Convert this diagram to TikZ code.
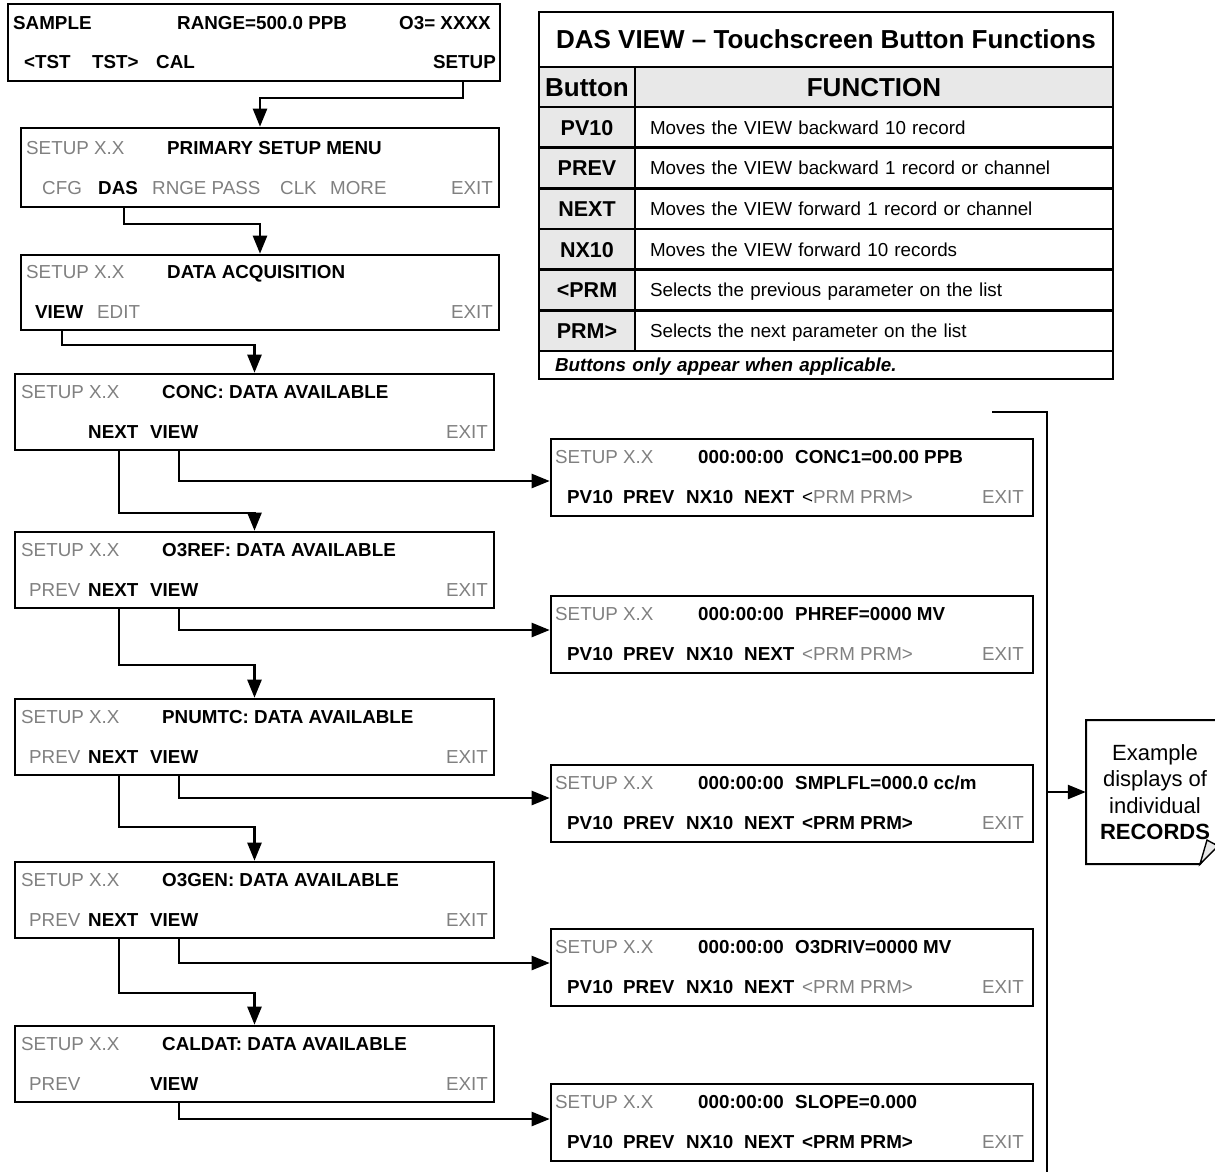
\documentclass[tikz,border=0pt]{standalone}
\usepackage{fontspec}
\setmainfont{Liberation Sans}
\usetikzlibrary{arrows.meta,calc}
\definecolor{dim}{RGB}{128,128,128}
\definecolor{cellgrey}{RGB}{232,232,232}
\newcommand\fsmain{\fontsize{18.8}{22}\selectfont}
\newcommand\fsbig{\fontsize{26}{30}\selectfont}
\newcommand\fsbtn{\fontsize{21.5}{25}\selectfont}
\newcommand\fsnote{\fontsize{22}{26.5}\selectfont}
\begin{document}
\begin{tikzpicture}[x=1pt,y=-1pt,
  screen/.style={draw, line width=2.6pt, inner sep=0pt},
  lscreen/.style={screen, minimum width=479pt, minimum height=76pt},
  rscreen/.style={screen, minimum width=482pt, minimum height=77pt},
  conn/.style={line width=2.4pt, -{Triangle[length=18pt,width=14pt]}},
  plain/.style={line width=2.4pt},
  txr/.style={anchor=base west, inner sep=0pt, font=\fsmain},
  txb/.style={txr, font=\fsmain\bfseries},
  txg/.style={txr, text=dim},
  txge/.style={txg, anchor=base east},
  txbe/.style={txb, anchor=base east},
  tcell/.style={draw, line width=2.4pt, inner sep=0pt},
  bcell/.style={tcell, fill=cellgrey, minimum width=96pt, minimum height=40.67pt, font=\fsbtn\bfseries, text height=15.4pt, text depth=0pt},
  dcell/.style={tcell, minimum width=478pt, minimum height=40.67pt, text width=448pt, inner xsep=15pt, align=left, font=\fsmain, text height=13.5pt, text depth=0pt},
]
\useasboundingbox (0,0) rectangle (1215,1171);

% ---------- left column screens ----------
\node[screen, minimum width=492pt, minimum height=77pt] (scrA) at (254,42.5) {};
\node[txb] (aSample) at (13,29.7) {SAMPLE};
\node[txb] (aRange) at (177,29.7) {RANGE=500.0 PPB};
\node[txb] (aO3) at (399,29.7) {O3= XXXX};
\node[txb] (aTstL) at (24,68.7) {<TST};
\node[txb] (aTstR) at (92,68.7) {TST>};
\node[txb] (aCal) at (156,68.7) {CAL};
\node[txbe] (aSetup) at (496,68.7) {SETUP};

\node[screen, minimum width=478pt, minimum height=79pt] (scrB) at (260,167.5) {};
\node[txg] (bSet) at (26,154.7) {SETUP X.X};
\node[txb] (bTitle) at (167,154.7) {PRIMARY SETUP MENU};
\node[txg] (bCfg) at (42,194.7) {CFG};
\node[txb] (bDas) at (98,194.7) {DAS};
\node[txg] (bRnge) at (152,194.7) {RNGE PASS};
\node[txg] (bClk) at (280,194.7) {CLK};
\node[txg] (bMore) at (330,194.7) {MORE};
\node[txge] (bExit) at (493,194.7) {EXIT};

\node[screen, minimum width=478pt, minimum height=75pt] (scrC) at (260,292.5) {};
\node[txg] (cSet) at (26,278.7) {SETUP X.X};
\node[txb] (cTitle) at (167,278.7) {DATA ACQUISITION};
\node[txb] (cView) at (35,318.7) {VIEW};
\node[txg] (cEdit) at (97,318.7) {EDIT};
\node[txge] (cExit) at (493,318.7) {EXIT};

% CONC
\node[lscreen] (scrD) at (254.5,412) {};
\node[txg] (dSet) at (21,398.7) {SETUP X.X};
\node[txb] (dTitle) at (162,398.7) {CONC: DATA AVAILABLE};
\node[txb] (dNext) at (88,438.7) {NEXT};
\node[txb] (dView) at (150,438.7) {VIEW};
\node[txge] (dExit) at (488,438.7) {EXIT};

% O3REF
\node[lscreen] (scrF) at (254.5,570) {};
\node[txg] (fSet) at (21,556.7) {SETUP X.X};
\node[txb] (fTitle) at (162,556.7) {O3REF: DATA AVAILABLE};
\node[txg] (fPrev) at (29,596.7) {PREV};
\node[txb] (fNext) at (88,596.7) {NEXT};
\node[txb] (fView) at (150,596.7) {VIEW};
\node[txge] (fExit) at (488,596.7) {EXIT};

% PNUMTC
\node[lscreen] (scrH) at (254.5,737) {};
\node[txg] (hSet) at (21,723.7) {SETUP X.X};
\node[txb] (hTitle) at (162,723.7) {PNUMTC: DATA AVAILABLE};
\node[txg] (hPrev) at (29,763.7) {PREV};
\node[txb] (hNext) at (88,763.7) {NEXT};
\node[txb] (hView) at (150,763.7) {VIEW};
\node[txge] (hExit) at (488,763.7) {EXIT};

% O3GEN
\node[lscreen] (scrJ) at (254.5,900) {};
\node[txg] (jSet) at (21,886.7) {SETUP X.X};
\node[txb] (jTitle) at (162,886.7) {O3GEN: DATA AVAILABLE};
\node[txg] (jPrev) at (29,926.7) {PREV};
\node[txb] (jNext) at (88,926.7) {NEXT};
\node[txb] (jView) at (150,926.7) {VIEW};
\node[txge] (jExit) at (488,926.7) {EXIT};

% CALDAT
\node[lscreen] (scrL) at (254.5,1064) {};
\node[txg] (lSet) at (21,1050.7) {SETUP X.X};
\node[txb] (lTitle) at (162,1050.7) {CALDAT: DATA AVAILABLE};
\node[txg] (lPrev) at (29,1090.7) {PREV};
\node[txb] (lView) at (150,1090.7) {VIEW};
\node[txge] (lExit) at (488,1090.7) {EXIT};

% ---------- record screens ----------
\node[rscreen] (scrE) at (792,477.5) {};
\node[txg] (eSet) at (555,463.7) {SETUP X.X};
\node[txb] (eTime) at (698,463.7) {000:00:00};
\node[txb] (eVal) at (795,463.7) {CONC1=00.00 PPB};
\node[txb] (ePv) at (567,503.7) {PV10};
\node[txb] (ePrev) at (623,503.7) {PREV};
\node[txb] (eNx) at (686,503.7) {NX10};
\node[txb] (eNext) at (744,503.7) {NEXT};
\node[txr] (ePrm) at (802,503.7) {<\textcolor{dim}{PRM PRM>}};
\node[txge] (eExit) at (1024,503.7) {EXIT};

\node[rscreen] (scrG) at (792,634.5) {};
\node[txg] (gSet) at (555,620.7) {SETUP X.X};
\node[txb] (gTime) at (698,620.7) {000:00:00};
\node[txb] (gVal) at (795,620.7) {PHREF=0000 MV};
\node[txb] (gPv) at (567,660.7) {PV10};
\node[txb] (gPrev) at (623,660.7) {PREV};
\node[txb] (gNx) at (686,660.7) {NX10};
\node[txb] (gNext) at (744,660.7) {NEXT};
\node[txg] (gPrm) at (802,660.7) {<PRM PRM>};
\node[txge] (gExit) at (1024,660.7) {EXIT};

\node[rscreen] (scrI) at (792,803.5) {};
\node[txg] (iSet) at (555,789.7) {SETUP X.X};
\node[txb] (iTime) at (698,789.7) {000:00:00};
\node[txb] (iVal) at (795,789.7) {SMPLFL=000.0 cc/m};
\node[txb] (iPv) at (567,829.7) {PV10};
\node[txb] (iPrev) at (623,829.7) {PREV};
\node[txb] (iNx) at (686,829.7) {NX10};
\node[txb] (iNext) at (744,829.7) {NEXT};
\node[txb] (iPrm) at (802,829.7) {<PRM PRM>};
\node[txge] (iExit) at (1024,829.7) {EXIT};

\node[rscreen] (scrK) at (792,967.5) {};
\node[txg] (kSet) at (555,953.7) {SETUP X.X};
\node[txb] (kTime) at (698,953.7) {000:00:00};
\node[txb] (kVal) at (795,953.7) {O3DRIV=0000 MV};
\node[txb] (kPv) at (567,993.7) {PV10};
\node[txb] (kPrev) at (623,993.7) {PREV};
\node[txb] (kNx) at (686,993.7) {NX10};
\node[txb] (kNext) at (744,993.7) {NEXT};
\node[txg] (kPrm) at (802,993.7) {<PRM PRM>};
\node[txge] (kExit) at (1024,993.7) {EXIT};

\node[rscreen] (scrM) at (792,1122.5) {};
\node[txg] (mSet) at (555,1108.7) {SETUP X.X};
\node[txb] (mTime) at (698,1108.7) {000:00:00};
\node[txb] (mVal) at (795,1108.7) {SLOPE=0.000};
\node[txb] (mPv) at (567,1148.7) {PV10};
\node[txb] (mPrev) at (623,1148.7) {PREV};
\node[txb] (mNx) at (686,1148.7) {NX10};
\node[txb] (mNext) at (744,1148.7) {NEXT};
\node[txb] (mPrm) at (802,1148.7) {<PRM PRM>};
\node[txge] (mExit) at (1024,1148.7) {EXIT};

% ---------- connectors ----------
\draw[conn] (463,0 |- scrA.south) -- (463,98) -| (scrB.north);
\draw[conn] (124,0 |- scrB.south) -- (124,224) -| (scrC.north);
\draw[conn] (62,0 |- scrC.south) -- (62,345) -| (scrD.north);

\draw[conn] (119,0 |- scrD.south) -- (119,513) -| (scrF.north);
\draw[conn] (179,0 |- scrD.south) -- (179,481) -- (scrE.west |- 0,481);

\draw[conn] (119,0 |- scrF.south) -- (119,665) -| (scrH.north);
\draw[conn] (179,0 |- scrF.south) -- (179,630) -- (scrG.west |- 0,630);

\draw[conn] (119,0 |- scrH.south) -- (119,827) -| (scrJ.north);
\draw[conn] (179,0 |- scrH.south) -- (179,798) -- (scrI.west |- 0,798);

\draw[conn] (119,0 |- scrJ.south) -- (119,993) -| (scrL.north);
\draw[conn] (179,0 |- scrJ.south) -- (179,963) -- (scrK.west |- 0,963);

\draw[conn] (179,0 |- scrL.south) -- (179,1119) -- (scrM.west |- 0,1119);

% ---------- table ----------
\node[tcell, minimum width=574pt, minimum height=55pt, font=\fsbig\bfseries, text height=18.6pt, text depth=0pt] (tTitle) at (826,39.5) {DAS VIEW -- Touchscreen Button Functions};
\node[tcell, fill=cellgrey, minimum width=96pt, minimum height=40pt, font=\fsbig\bfseries, text height=18.6pt, text depth=0pt] (tHB) at (587,87) {Button};
\node[tcell, fill=cellgrey, minimum width=478pt, minimum height=40pt, font=\fsbig\bfseries, text height=18.6pt, text depth=0pt] (tHF) at (874,87) {FUNCTION};

\node[bcell] (b1) at (587,127.3) {PV10};
\node[dcell] (d1) at (874,127.3) {Moves the VIEW backward 10 record};
\node[bcell] (b2) at (587,168.0) {PREV};
\node[dcell] (d2) at (874,168.0) {Moves the VIEW backward 1 record or channel};
\node[bcell] (b3) at (587,208.7) {NEXT};
\node[dcell] (d3) at (874,208.7) {Moves the VIEW forward 1 record or channel};
\node[bcell] (b4) at (587,249.3) {NX10};
\node[dcell] (d4) at (874,249.3) {Moves the VIEW forward 10 records};
\node[bcell] (b5) at (587,290.0) {<PRM};
\node[dcell] (d5) at (874,290.0) {Selects the previous parameter on the list};
\node[bcell] (b6) at (587,330.7) {PRM>};
\node[dcell] (d6) at (874,330.7) {Selects the next parameter on the list};
\node[tcell, minimum width=574pt, minimum height=28pt, text width=542pt, inner xsep=16pt, align=left, font=\fsmain\bfseries\itshape, text height=13.5pt, text depth=0pt] (tFoot) at (826,365) {Buttons only appear when applicable.};

% ---------- bracket and note ----------
\coordinate (brTop) at (992,412);
\coordinate (brBot) at (1047,1176);
\draw[plain] (brTop) -- (1047,412) -- (brBot);

\node[font=\fsnote, align=center, minimum width=138pt, minimum height=144pt, inner sep=0pt] (note) at (1155,792) {Example\\displays of\\individual\\\textbf{RECORDS}};
\draw[line width=2pt] (1222,720) -- (1086,720) -- (1086,864) -- (1200,864) -- (1220,838);
\draw[line width=1.4pt, fill=cellgrey] (1200,864) .. controls (1203,852) .. (1207,840) -- (1218,846) -- cycle;
\draw[conn] (brBot |- note.west) -- (note.west);
\end{tikzpicture}
\end{document}
